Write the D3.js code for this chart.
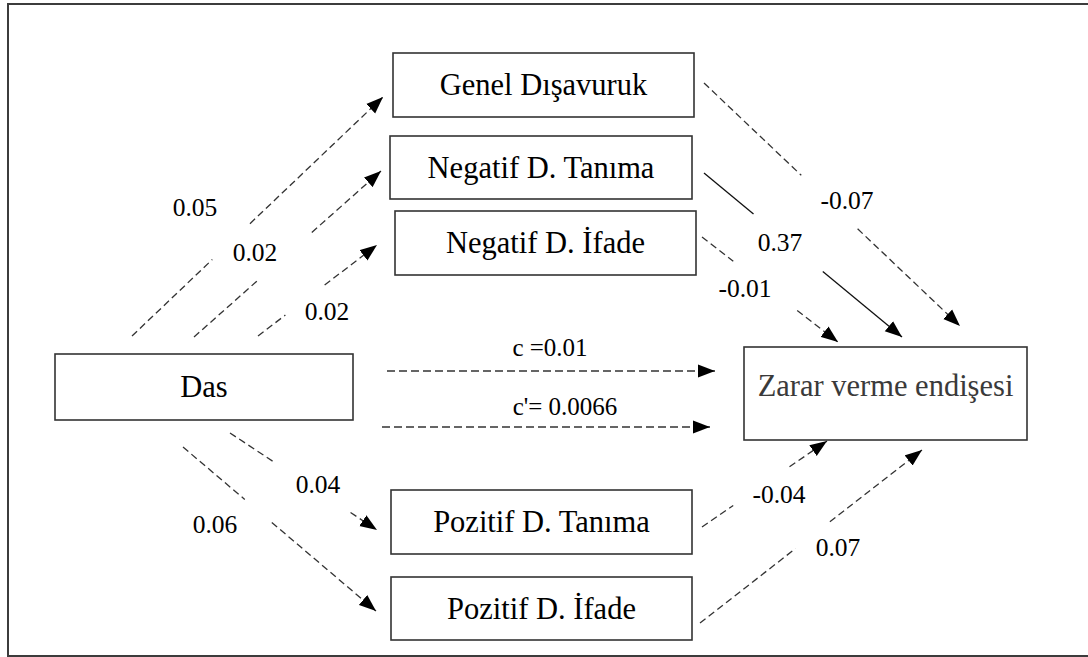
<!DOCTYPE html>
<html>
<head>
<meta charset="utf-8">
<script src="https://cdn.jsdelivr.net/npm/d3@7"></script>
<style>
  html, body { margin: 0; padding: 0; background: #fff; }
  svg { display: block; }
  svg text { font-family: "Liberation Serif", Tinos, "Times New Roman", "DejaVu Serif", serif; }
</style>
</head>
<body>
<div id="chart"></div>
<script>
// variables of the mediation model
const nodeIds   = ["das", "genel", "negTan", "negIfade", "pozTan", "pozIfade", "zarar"];
const nodeNames = ["Das", "Genel Dışavuruk", "Negatif D. Tanıma", "Negatif D. İfade",
                   "Pozitif D. Tanıma", "Pozitif D. İfade", "Zarar verme endişesi"];

// paths: from -> to, coefficient label
const pathFrom  = ["das", "das", "das", "das", "das", "genel", "negTan", "negIfade", "pozTan", "pozIfade"];
const pathTo    = ["genel", "negTan", "negIfade", "pozTan", "pozIfade", "zarar", "zarar", "zarar", "zarar", "zarar"];
const pathCoef  = ["0.05", "0.02", "0.02", "0.04", "0.06", "-0.07", "0.37", "-0.01", "-0.04", "0.07"];
const pathSolid = [false, false, false, false, false, false, true, false, false, false];

// total and direct effect
const effectNames  = ["c", "c'"];
const effectLabels = ["c =0.01", "c'= 0.0066"];

// ---- layout (positions only) ----
const width = 1088, height = 657;
const boxLayout = {
  das:      {x: 55,  y: 354, w: 298, h: 66},
  genel:    {x: 393, y: 53,  w: 301, h: 64},
  negTan:   {x: 390, y: 136, w: 302, h: 63},
  negIfade: {x: 395, y: 211, w: 301, h: 64},
  pozTan:   {x: 391, y: 490, w: 301, h: 64},
  pozIfade: {x: 391, y: 577, w: 301, h: 63},
  zarar:    {x: 744, y: 347, w: 283, h: 93}
};
// start point, arrow tip, gap (fraction of length) and label centre for each path
const pathLayout = [
  {p0: [132, 336], p1: [383, 97],  gap: [0.32, 0.47], lab: [195, 207]},
  {p0: [194, 337], p1: [381, 171], gap: [0.34, 0.63], lab: [255, 252]},
  {p0: [258, 336], p1: [377, 245], gap: [0.23, 0.56], lab: [327, 311]},
  {p0: [230, 433], p1: [377, 530], gap: [0.31, 0.82], lab: [318, 484]},
  {p0: [183, 447], p1: [376, 611], gap: [0.32, 0.46], lab: [215, 524]},
  {p0: [704, 83],  p1: [960, 326], gap: [0.38, 0.60], lab: [847, 200]},
  {p0: [704, 173], p1: [902, 337], gap: [0.25, 0.60], lab: [780, 242]},
  {p0: [702, 237], p1: [838, 342], gap: [0.23, 0.70], lab: [745, 288]},
  {p0: [702, 527], p1: [827, 441], gap: [0.25, 0.70], lab: [779, 494]},
  {p0: [700, 623], p1: [922, 450], gap: [0.43, 0.585], lab: [838, 547]}
];
const effectLayout = [
  {x0: 387, x1: 715, y: 371, lab: [550, 356]},
  {x0: 382, x1: 710, y: 427, lab: [565, 415]}
];

const svg = d3.select("#chart").append("svg")
  .attr("width", width)
  .attr("height", height);

// arrowhead
svg.append("defs").append("marker")
  .attr("id", "arrow")
  .attr("viewBox", "-17 -7 17 14")
  .attr("refX", 0).attr("refY", 0)
  .attr("markerWidth", 17).attr("markerHeight", 14)
  .attr("markerUnits", "userSpaceOnUse")
  .attr("orient", "auto")
  .append("path")
  .attr("d", "M0,0 L-17,-6.5 L-17,6.5 Z")
  .attr("fill", "#000");

// outer frame (no right side in the picture)
svg.append("path")
  .attr("d", `M${width + 10},4 H8 V656 H${width + 10}`)
  .attr("fill", "none")
  .attr("stroke", "#3c3c3c")
  .attr("stroke-width", 2);

// boxes
const nodes = nodeIds.map((id, i) => ({id, name: nodeNames[i], ...boxLayout[id]}));

const boxes = svg.selectAll("g.node")
  .data(nodes)
  .enter().append("g")
  .attr("class", "node");

boxes.append("rect")
  .attr("x", d => d.x)
  .attr("y", d => d.y)
  .attr("width", d => d.w)
  .attr("height", d => d.h)
  .attr("fill", "#fff")
  .attr("stroke", "#333")
  .attr("stroke-width", 1.6);

boxes.append("text")
  .attr("x", d => d.x + d.w / 2)
  .attr("y", d => d.id === "zarar" ? d.y + 49 : d.y + d.h / 2 + 10)
  .attr("text-anchor", "middle")
  .attr("font-size", "30.5px")
  .attr("fill", d => d.id === "zarar" ? "#3a3a3a" : "#000")
  .text(d => d.name);

// paths with a gap where the label sits
const paths = pathFrom.map((f, i) => ({
  from: f, to: pathTo[i], coef: pathCoef[i], solid: pathSolid[i], ...pathLayout[i]
}));

const lerp = (a, b, t) => [a[0] + (b[0] - a[0]) * t, a[1] + (b[1] - a[1]) * t];
const line = d3.line();

const edges = svg.selectAll("g.edge")
  .data(paths)
  .enter().append("g")
  .attr("class", "edge");

edges.append("path")
  .attr("d", d => line([d.p0, lerp(d.p0, d.p1, d.gap[0])]))
  .attr("fill", "none")
  .attr("stroke", d => d.solid ? "#111" : "#333")
  .attr("stroke-width", 1.3)
  .attr("stroke-dasharray", d => d.solid ? null : "7,4");

edges.append("path")
  .attr("d", d => line([lerp(d.p0, d.p1, d.gap[1]), d.p1]))
  .attr("fill", "none")
  .attr("stroke", d => d.solid ? "#111" : "#333")
  .attr("stroke-width", 1.3)
  .attr("stroke-dasharray", d => d.solid ? null : "7,4")
  .attr("marker-end", "url(#arrow)");

edges.append("text")
  .attr("x", d => d.lab[0])
  .attr("y", d => d.lab[1])
  .attr("dy", "0.35em")
  .attr("text-anchor", "middle")
  .attr("font-size", "25.5px")
  .attr("fill", "#000")
  .text(d => d.coef);

// total (c) and direct (c') effects
const effects = effectNames.map((n, i) => ({name: n, label: effectLabels[i], ...effectLayout[i]}));

const eff = svg.selectAll("g.effect")
  .data(effects)
  .enter().append("g")
  .attr("class", "effect");

eff.append("path")
  .attr("d", d => line([[d.x0, d.y], [d.x1, d.y]]))
  .attr("stroke", "#333")
  .attr("stroke-width", 1.3)
  .attr("stroke-dasharray", "8,4")
  .attr("marker-end", "url(#arrow)");

eff.append("text")
  .attr("x", d => d.lab[0])
  .attr("y", d => d.lab[1])
  .attr("text-anchor", "middle")
  .attr("font-size", "25px")
  .attr("fill", "#000")
  .text(d => d.label);
</script>
</body>
</html>
